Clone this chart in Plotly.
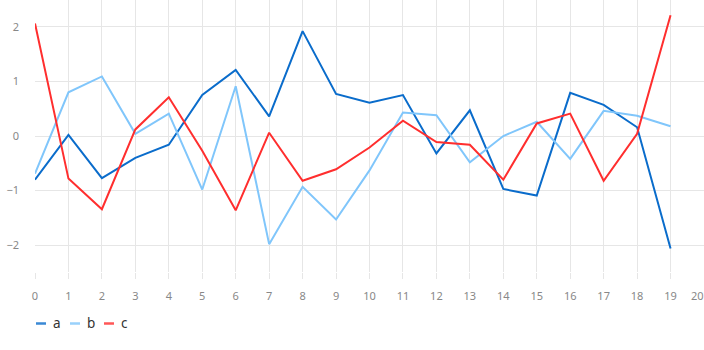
import plotly.graph_objects as go

x = list(range(20))
a = [-0.80, 0.02, -0.77, -0.40, -0.16, 0.75, 1.21, 0.36, 1.92, 0.77,
     0.61, 0.75, -0.32, 0.47, -0.97, -1.09, 0.79, 0.57, 0.16, -2.06]
b = [-0.69, 0.80, 1.09, 0.04, 0.41, -0.98, 0.91, -1.98, -0.93, -1.53,
     -0.63, 0.43, 0.38, -0.48, 0.00, 0.26, -0.42, 0.46, 0.37, 0.18]
c = [2.06, -0.78, -1.34, 0.12, 0.71, -0.27, -1.36, 0.06, -0.82, -0.61,
     -0.21, 0.28, -0.11, -0.16, -0.80, 0.23, 0.41, -0.82, 0.04, 2.21]
x_ticks = list(range(21))
x_tick_labels = [str(i) for i in x_ticks]

series = [("a", a, "#0a6ccb"), ("b", b, "#80c6fb"), ("c", c, "#ff2e2e")]

fig = go.Figure()
for name, vals, col in series:
    fig.add_trace(go.Scatter(x=x, y=vals, name=name, mode="lines",
                             line=dict(color=col, width=2), showlegend=False))

# custom compact legend (bottom-left)
W = 704
x0 = 36
for i, (name, vals, col) in enumerate(series):
    lx = x0 + i * 34
    fig.add_shape(type="line", xref="paper", yref="paper",
                  x0=(lx - 35) / (W - 35), x1=(lx + 10 - 35) / (W - 35),
                  y0=-(323.5 - 272) / 272, y1=-(323.5 - 272) / 272,
                  line=dict(color=col, width=2.5), opacity=0.8)
    fig.add_annotation(xref="paper", yref="paper",
                       x=(lx + 15 - 35) / (W - 35), y=-(323 - 272) / 272,
                       text=name, showarrow=False, xanchor="left", yanchor="middle",
                       font=dict(size=13.5, color="#333"))

# last tick label is shifted inward to fit inside the canvas
ticktext = x_tick_labels[:-1] + [""]
fig.add_annotation(xref="paper", yref="paper", x=1, y=-(295 - 272) / 272,
                   text=x_tick_labels[-1], showarrow=False, xanchor="right",
                   yanchor="middle", xshift=2, font=dict(size=11, color="#888"))

fig.update_layout(
    width=704, height=350,
    margin=dict(l=35, r=0, t=0, b=78),
    paper_bgcolor="white", plot_bgcolor="white",
    font=dict(family="Noto Sans", size=11, color="#888"),
    showlegend=False,
    xaxis=dict(range=[0, 20.0001], tickmode="array", tickvals=x_ticks,
               ticktext=ticktext, showgrid=True,
               gridcolor="#e6e6e6", zeroline=False, ticks="outside",
               ticklen=6, tickcolor="#e6e6e6", ticklabelstandoff=8,
               automargin=False, showline=False),
    yaxis=dict(range=[-2.49, 2.49], tickmode="array", tickvals=[-2, -1, 0, 1, 2],
               ticktext=["−2", "−1", "0", "1", "2"], automargin=False,
               showgrid=True, gridcolor="#e6e6e6", zeroline=False,
               ticks="", showline=False, ticklabelstandoff=15),
)

fig.write_html("out.html")
